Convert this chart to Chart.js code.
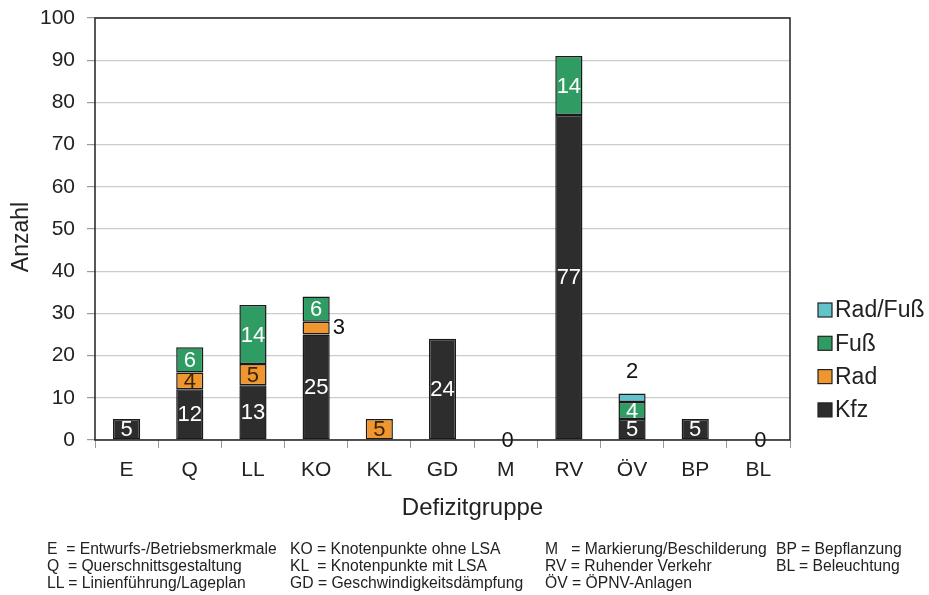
<!DOCTYPE html>
<html>
<head>
<meta charset="utf-8">
<script src="https://cdn.jsdelivr.net/npm/chart.js@4.4.0/dist/chart.umd.min.js"></script>
<style>
  body { margin: 0; background: #fff; }
  #wrap { position: relative; width: 929px; height: 595px; }
  #c { position: absolute; left: 0; top: 0; }
  .note { position: absolute; top: 540px; font-family: "Liberation Sans Narrow", "Liberation Sans", Arial, sans-serif;
          font-size: 16px; line-height: 17px; color: #222; white-space: pre;
          transform-origin: 0 0; transform: scaleX(0.98); }
</style>
</head>
<body>
<div id="wrap">
  <canvas id="c" width="929" height="595"></canvas>
  <div class="note" style="left:47px">E  = Entwurfs-/Betriebsmerkmale
Q  = Querschnittsgestaltung
LL = Linienführung/Lageplan</div>
  <div class="note" style="left:290px">KO = Knotenpunkte ohne LSA
KL  = Knotenpunkte mit LSA
GD = Geschwindigkeitsdämpfung</div>
  <div class="note" style="left:545px">M   = Markierung/Beschilderung
RV = Ruhender Verkehr
ÖV = ÖPNV-Anlagen</div>
  <div class="note" style="left:776px">BP = Bepflanzung
BL = Beleuchtung</div>
</div>
<script>
// categories and series
const groups = ['E', 'Q', 'LL', 'KO', 'KL', 'GD', 'M', 'RV', 'ÖV', 'BP', 'BL'];
const kfz    = [5, 12, 13, 25, 0, 24, 0, 77, 5, 5, 0];
const rad    = [0, 4, 5, 3, 5, 0, 0, 0, 0, 0, 0];
const fuss   = [0, 6, 14, 6, 0, 0, 0, 14, 4, 0, 0];
const radFuss = [0, 0, 0, 0, 0, 0, 0, 0, 2, 0, 0];
const yTicks = [0, 10, 20, 30, 40, 50, 60, 70, 80, 90, 100];

const FONT = '"Liberation Sans", Arial, sans-serif';

const mkSet = (label, data, color, textColor) => ({
  label: label,
  data: data,
  backgroundColor: color,
  borderColor: '#1a1a1a',
  borderWidth: 1.5,
  borderSkipped: false,
  textColor: textColor,
  barPercentage: 0.43,
  categoryPercentage: 1
});

// frame round the plot area + axis titles
const frame = {
  id: 'frame',
  afterDraw(chart) {
    const a = chart.chartArea, ctx = chart.ctx;
    ctx.save();
    ctx.strokeStyle = '#222';
    ctx.lineWidth = 1.5;
    ctx.strokeRect(a.left, a.top, a.right - a.left, a.bottom - a.top);

    ctx.fillStyle = '#222';
    ctx.font = '24px ' + FONT;
    ctx.textAlign = 'center';
    ctx.textBaseline = 'middle';
    ctx.fillText('Defizitgruppe', (a.left + a.right) / 2 + 30, a.bottom + 68);
    ctx.translate(22, (a.top + a.bottom) / 2 + 8);
    ctx.rotate(-Math.PI / 2);
    ctx.font = '23px ' + FONT;
    ctx.fillText('Anzahl', 0, 0);
    ctx.restore();
  }
};

// value labels on the segments
const valueLabels = {
  id: 'valueLabels',
  afterDatasetsDraw(chart) {
    const ctx = chart.ctx;
    ctx.save();
    ctx.font = '22px ' + FONT;
    ctx.textAlign = 'center';
    ctx.textBaseline = 'middle';
    const n = chart.data.labels.length;
    for (let i = 0; i < n; i++) {
      const sets = chart.data.datasets;
      let total = 0;
      sets.forEach(ds => total += ds.data[i]);
      if (total === 0) {
        const el = chart.getDatasetMeta(0).data[i];
        ctx.fillStyle = '#111';
        ctx.fillText('0', el.x + 2, el.base + 1);
        continue;
      }
      let topIdx = -1;
      sets.forEach((ds, k) => { if (ds.data[i] > 0) topIdx = k; });
      sets.forEach((ds, k) => {
        const v = ds.data[i];
        if (!v) return;
        const el = chart.getDatasetMeta(k).data[i];
        const h = Math.abs(el.base - el.y);
        const cy = (el.base + el.y) / 2;
        if (h < 15) {
          ctx.fillStyle = '#111';
          if (k === topIdx) {
            ctx.fillText(String(v), el.x, el.y - 22);
          } else {
            ctx.textAlign = 'left';
            ctx.fillText(String(v), el.x + el.width / 2 + 3, cy);
            ctx.textAlign = 'center';
          }
        } else {
          ctx.fillStyle = ds.textColor;
          ctx.fillText(String(v), el.x, cy + 1);
        }
      });
    }
    ctx.restore();
  }
};

// legend on the right, drawn top-down in reverse order
const sideLegend = {
  id: 'sideLegend',
  afterDraw(chart) {
    const ctx = chart.ctx;
    const sets = chart.data.datasets.slice().reverse();
    ctx.save();
    ctx.font = '23px ' + FONT;
    ctx.textBaseline = 'middle';
    ctx.textAlign = 'left';
    sets.forEach((ds, j) => {
      const y = 310 + j * 33.3;
      ctx.fillStyle = ds.backgroundColor;
      ctx.fillRect(818, y - 7, 14, 14);
      ctx.strokeStyle = '#222';
      ctx.lineWidth = 1.2;
      ctx.strokeRect(818, y - 7, 14, 14);
      ctx.fillStyle = '#222';
      ctx.fillText(ds.label, 835, y + 1);
    });
    ctx.restore();
  }
};

new Chart(document.getElementById('c'), {
  type: 'bar',
  data: {
    labels: groups,
    datasets: [
      mkSet('Kfz', kfz, '#2d2d2d', '#ffffff'),
      mkSet('Rad', rad, '#f0962e', '#3a2408'),
      mkSet('Fuß', fuss, '#2f9c63', '#ffffff'),
      mkSet('Rad/Fuß', radFuss, '#62c3cb', '#ffffff')
    ]
  },
  options: {
    responsive: false,
    animation: false,
    layout: { padding: { left: 0, right: 139, top: 18, bottom: 74 } },
    plugins: {
      legend: { display: false },
      tooltip: { enabled: false }
    },
    scales: {
      x: {
        stacked: true,
        afterFit: axis => { axis.height = 81; },
        grid: { drawOnChartArea: false, drawTicks: true, tickLength: 8, color: '#999', offset: true },
        border: { display: false },
        ticks: { color: '#222', font: { size: 21, family: FONT }, padding: 10 }
      },
      y: {
        stacked: true,
        min: 0,
        max: 100,
        afterFit: axis => { axis.width = 95; axis.paddingTop = 0; axis.paddingBottom = 0; },
        afterBuildTicks: axis => { axis.ticks = yTicks.map(v => ({ value: v })); },
        grid: { color: '#cccccc', lineWidth: 1.2, tickLength: 8, tickColor: '#999' },
        border: { display: false },
        ticks: { color: '#222', font: { size: 21, family: FONT }, padding: 12 }
      }
    }
  },
  plugins: [frame, valueLabels, sideLegend]
});
</script>
</body>
</html>
